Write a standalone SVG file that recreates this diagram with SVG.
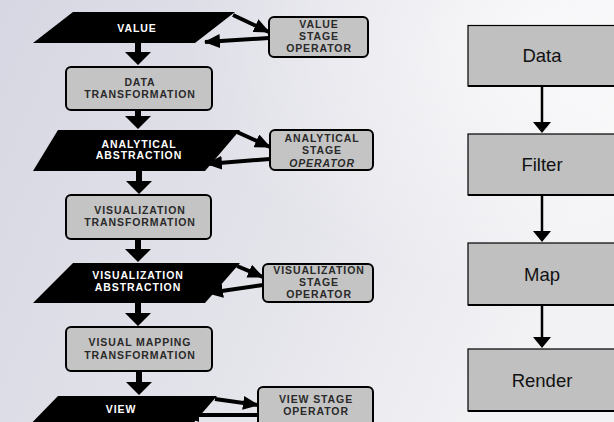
<svg xmlns="http://www.w3.org/2000/svg" width="614" height="422" viewBox="0 0 614 422">
<defs>
<linearGradient id="bg" x1="0" y1="0" x2="1" y2="0.3">
<stop offset="0" stop-color="#d6d7e2"/>
<stop offset="0.6" stop-color="#e4e4eb"/>
<stop offset="1" stop-color="#f2f2f5"/>
</linearGradient>
<radialGradient id="hl" cx="0.9" cy="0.1" r="0.6">
<stop offset="0" stop-color="#ffffff" stop-opacity="0.7"/>
<stop offset="1" stop-color="#ffffff" stop-opacity="0"/>
</radialGradient>
<marker id="ah" viewBox="0 0 16 14" refX="15" refY="7" markerWidth="16" markerHeight="14" markerUnits="userSpaceOnUse" orient="auto">
<path d="M0,0 L16,7 L0,14 Z" fill="#000"/>
</marker>
</defs>
<style>
.par{fill:#000}
.gbox{fill:#c4c4c4;stroke:#000;stroke-width:2}
.wt{font-family:"Liberation Sans",Arial,sans-serif;font-weight:bold;font-size:10.5px;letter-spacing:0.9px;fill:#fff;text-anchor:middle}
.dt{font-family:"Liberation Sans",Arial,sans-serif;font-weight:bold;font-size:10.5px;letter-spacing:0.9px;fill:#2a2a2a;text-anchor:middle}
.rbox{fill:#c0c0c0;stroke:#000;stroke-width:1.2}
.rt{font-family:"Liberation Sans",Arial,sans-serif;font-size:18.5px;fill:#111;text-anchor:middle}
.sl{stroke:#000;stroke-width:4;fill:none;marker-end:url(#ah)}
.va{fill:#000}
.rs{stroke:#000;stroke-width:2.5}
</style>
<rect width="614" height="422" fill="url(#bg)"/>
<rect width="614" height="422" fill="url(#hl)"/>

<g id="value">
<polygon class="par" points="73,12 235,12 195,43 33,43"/>
<text class="wt" x="137" y="31.5">VALUE</text>
</g>
<g id="value-op">
<rect class="gbox" x="269" y="17" width="99" height="40" rx="5"/>
<text class="dt" x="319" y="27.7">VALUE</text>
<text class="dt" x="319" y="39.7">STAGE</text>
<text class="dt" x="319" y="51.7">OPERATOR</text>
</g>
<g id="data-trans">
<rect class="gbox" x="66" y="67" width="146" height="43" rx="5"/>
<text class="dt" x="140" y="85.7">DATA</text>
<text class="dt" x="140" y="97.7">TRANSFORMATION</text>
</g>
<g id="analytical">
<polygon class="par" points="58,130 240,130 205,171 33,171"/>
<text class="wt" x="139" y="147.7">ANALYTICAL</text>
<text class="wt" x="139" y="159">ABSTRACTION</text>
</g>
<g id="analytical-op">
<rect class="gbox" x="270" y="130" width="103" height="40" rx="5"/>
<text class="dt" x="322" y="142">ANALYTICAL</text>
<text class="dt" x="322" y="154.3">STAGE</text>
<text class="dt" x="322" y="167" font-style="italic">OPERATOR</text>
</g>
<g id="vis-trans">
<rect class="gbox" x="66" y="195" width="145" height="44" rx="5"/>
<text class="dt" x="140" y="214.3">VISUALIZATION</text>
<text class="dt" x="140" y="226.3">TRANSFORMATION</text>
</g>
<g id="vis-abs">
<polygon class="par" points="73,263 240,263 205,303 33,303"/>
<text class="wt" x="138" y="279">VISUALIZATION</text>
<text class="wt" x="138" y="291">ABSTRACTION</text>
</g>
<g id="vis-op">
<rect class="gbox" x="263" y="264" width="110" height="38" rx="5"/>
<text class="dt" x="319" y="274.3">VISUALIZATION</text>
<text class="dt" x="319" y="286">STAGE</text>
<text class="dt" x="319" y="297.7">OPERATOR</text>
</g>
<g id="vis-map">
<rect class="gbox" x="66" y="327" width="146" height="44" rx="5"/>
<text class="dt" x="140" y="346">VISUAL MAPPING</text>
<text class="dt" x="140" y="358.7">TRANSFORMATION</text>
</g>
<g id="view">
<polygon class="par" points="58,396 217,396 183,435 20,435"/>
<text class="wt" x="121" y="413">VIEW</text>
</g>
<g id="view-op">
<rect class="gbox" x="258" y="387" width="115" height="44" rx="5"/>
<text class="dt" x="316" y="402.7">VIEW STAGE</text>
<text class="dt" x="316" y="415.3">OPERATOR</text>
</g>

<g id="data">
<rect class="rbox" x="468" y="25.5" width="150" height="60.5"/>
<line x1="468" y1="86" x2="614" y2="86" stroke="#000" stroke-width="2"/>
<text class="rt" x="542" y="62">Data</text>
</g>
<g id="filter">
<rect class="rbox" x="468" y="134" width="150" height="61"/>
<line x1="468" y1="195" x2="614" y2="195" stroke="#000" stroke-width="2"/>
<text class="rt" x="542" y="171">Filter</text>
</g>
<g id="map">
<rect class="rbox" x="468" y="243" width="150" height="62"/>
<line x1="468" y1="305" x2="614" y2="305" stroke="#000" stroke-width="2"/>
<text class="rt" x="542" y="281">Map</text>
</g>
<g id="render">
<rect class="rbox" x="468" y="349" width="150" height="62"/>
<line x1="468" y1="411" x2="614" y2="411" stroke="#000" stroke-width="2"/>
<text class="rt" x="542" y="387">Render</text>
</g>

<g id="connectors">
<path class="va" d="M135,43 h6 v9 h10 l-13,13 l-13,-13 h10 z"/>
<path class="va" d="M135,110 h6 v6 h10 l-13,13 l-13,-13 h10 z"/>
<path class="va" d="M136,171 h6 v10 h10 l-13,13 l-13,-13 h10 z"/>
<path class="va" d="M135,239 h6 v10 h10 l-13,13 l-13,-13 h10 z"/>
<path class="va" d="M135,303 h6 v10 h10 l-13,13 l-13,-13 h10 z"/>
<path class="va" d="M136,371 h6 v11 h10 l-13,13 l-13,-13 h10 z"/>
<line class="sl" x1="233" y1="15" x2="269" y2="32"/>
<line class="sl" x1="269" y1="38" x2="205" y2="42"/>
<line class="sl" x1="237" y1="132" x2="270" y2="147"/>
<line class="sl" x1="270" y1="159" x2="207" y2="164"/>
<line class="sl" x1="237" y1="266" x2="263" y2="277"/>
<line class="sl" x1="263" y1="285" x2="208" y2="293"/>
<line class="sl" x1="215" y1="399" x2="258" y2="405"/>
<line class="sl" x1="258" y1="415" x2="184" y2="415"/>
<line class="rs" x1="542" y1="86" x2="542" y2="123"/>
<path class="va" d="M533,122 h18 l-9,11 z"/>
<line class="rs" x1="542" y1="195" x2="542" y2="232"/>
<path class="va" d="M533,231 h18 l-9,11 z"/>
<line class="rs" x1="542" y1="305" x2="542" y2="338"/>
<path class="va" d="M533,337 h18 l-9,11 z"/>
</g>
</svg>
